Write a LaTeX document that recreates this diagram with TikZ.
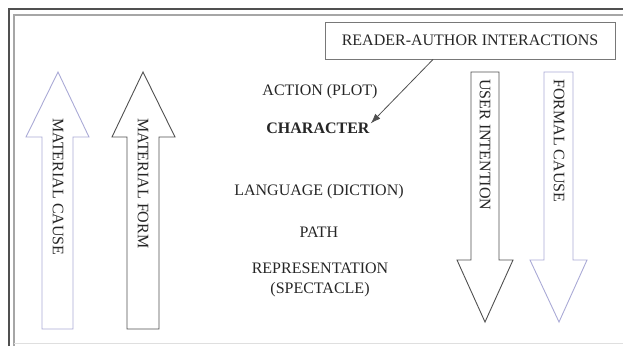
\documentclass[tikz,border=0pt]{standalone}
\usepackage{fontspec}
\setmainfont{Liberation Serif}
\usetikzlibrary{arrows.meta,positioning}
\definecolor{lavender}{RGB}{170,170,214}
\definecolor{darkline}{RGB}{80,80,80}
\definecolor{boxline}{RGB}{120,120,120}
\tikzset{
  bigarrow/.style={line width=0.9pt, fill=white, line join=miter},
  txt/.style={font=\fontsize{16}{20}\selectfont, text=black!85, inner sep=1pt, align=center},
  vtxt/.style={txt, rotate=-90, anchor=west},
}

\begin{document}
\begin{tikzpicture}[x=1pt, y=-1pt]
      \useasboundingbox (0,0) rectangle (623,346);
      \draw[darkline, line width=1.4pt] (9,346) -- (9,9) -- (623,9);
      \draw[gray!70, line width=1.4pt] (14,346) -- (14,15) -- (623,15);
      \draw[gray!25] (14,343) -- (623,343);

      % up arrows
      \draw[bigarrow, draw=lavender] (42,329) -- (42,137) -- (26,137) -- (58,72) -- (89,137) -- (73,137) -- (73,329) -- cycle;
      \draw[bigarrow, draw=darkline] (127,329) -- (127,137) -- (112,137) -- (143,72) -- (175,137) -- (159,137) -- (159,329) -- cycle;
      % down arrows
      \draw[bigarrow, draw=darkline] (471,72) -- (471,260) -- (457,260) -- (485,322) -- (513,260) -- (499,260) -- (499,72) -- cycle;
      \draw[bigarrow, draw=lavender] (544,72) -- (544,260) -- (530,260) -- (559,322) -- (587,260) -- (573,260) -- (573,72) -- cycle;

      \node[vtxt] (matcause) at (58,117) {MATERIAL CAUSE};
      \node[vtxt] (matform) at (143,117) {MATERIAL FORM};
      \node[vtxt] (userint) at (485,78) {USER INTENTION};
      \node[vtxt] (formcause) at (559,78) {FORMAL CAUSE};

      \node[txt] (action) at (320,92) {ACTION (PLOT)};
      \node[txt, font=\fontsize{16}{20}\selectfont\bfseries] (character) at (318,128) {CHARACTER};
      \node[txt] (language) at (319,192) {LANGUAGE (DICTION)};
      \node[txt] (path) at (319,232) {PATH};
      \node[txt] (spectacle) at (320,280) {REPRESENTATION\\(SPECTACLE)};

      \node[txt, draw=boxline, line width=0.9pt, minimum width=290pt, minimum height=37pt] (readauth) at (470,40.5) {READER-AUTHOR INTERACTIONS};
      \draw[darkline, line width=0.8pt, -{Latex[length=10pt,width=7pt]}] ([xshift=-37pt]readauth.south) -- ([yshift=-2pt]character.north east);
    \end{tikzpicture}
\end{document}
